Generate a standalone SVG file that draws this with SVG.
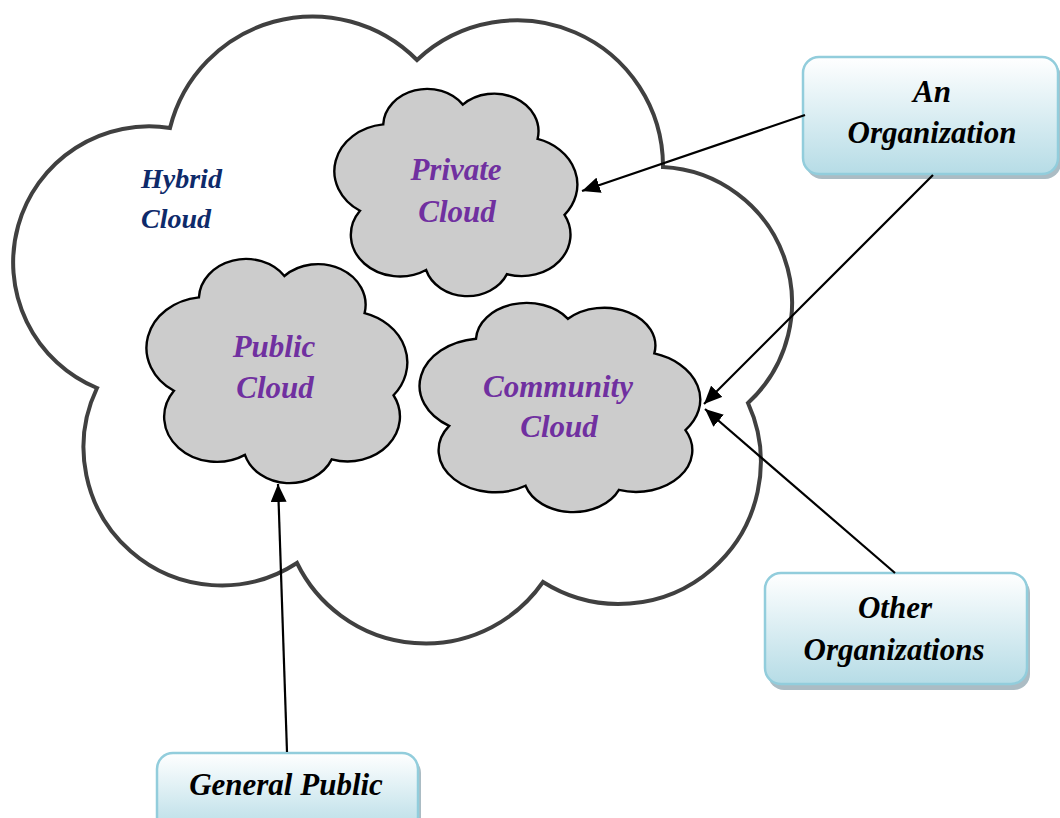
<svg xmlns="http://www.w3.org/2000/svg" width="1060" height="818" viewBox="0 0 1060 818">
  <style>
    .outer { fill: #ffffff; stroke: #404040; stroke-width: 4; stroke-linejoin: miter; }
    .cloud { fill: #cccccc; stroke: #000000; stroke-width: 2.4; }
    .lbl { font-family: "Liberation Serif", "Times New Roman", serif; font-weight: bold; font-style: italic; }
    .purple { fill: #7030a0; font-size: 31px; text-anchor: middle; }
    .navy { fill: #0e2a6a; font-size: 28px; }
    .boxtxt { fill: #000000; font-size: 31px; text-anchor: middle; }
    .box { fill: url(#boxFill); stroke: #92cddc; stroke-width: 2.5; }
    .shadow { fill: #8fa6b0; opacity: 0.75; }
    .conn { stroke: #000000; stroke-width: 2.2; fill: none; marker-end: url(#arrow); }
  </style>
  <defs>
    <linearGradient id="boxFill" x1="0" y1="0" x2="0" y2="1">
      <stop offset="0" stop-color="#ffffff"/>
      <stop offset="1" stop-color="#b6dce6"/>
    </linearGradient>
    <marker id="arrow" markerUnits="userSpaceOnUse" markerWidth="20" markerHeight="16" refX="18" refY="8" orient="auto">
      <path d="M0,0 L18,8 L0,16 Z" fill="#000000"/>
    </marker>
  </defs>

  <rect width="1060" height="818" fill="#ffffff"/>

  <!-- hybrid cloud outline -->
  <g id="hybrid-cloud">
    <path class="outer" d="M170,128 A147,147 0 0 1 417,60 A146,146 0 0 1 663,167 A136,136 0 0 1 748,403 A142,142 0 0 1 543,582 A143,143 0 0 1 297,563 A138,138 0 0 1 97,388 A136,136 0 0 1 170,128 Z"/>
    <text class="lbl navy" x="141" y="188">Hybrid</text>
    <text class="lbl navy" x="141" y="228">Cloud</text>
  </g>

  <!-- inner clouds: one outline in a 100x100 box, scaled into place -->
  <g id="private-cloud">
    <path class="cloud" vector-effect="non-scaling-stroke" transform="translate(333,88) scale(2.45,2.08)" d="M11,59 A22.6,22.6 0 0 1 20.5,17.5 A17.9,17.9 0 0 1 53,8 A18.1,18.1 0 0 1 83.5,24.5 A22.9,22.9 0 0 1 94.5,61 A19.9,19.9 0 0 1 71,89.5 A17.6,17.6 0 0 1 38,87.5 A20,20 0 0 1 11,59 Z"/>
    <text class="lbl purple" x="456" y="180">Private</text>
    <text class="lbl purple" x="457" y="222">Cloud</text>
  </g>

  <g id="public-cloud">
    <path class="cloud" vector-effect="non-scaling-stroke" transform="translate(145,258) scale(2.63,2.25)" d="M11,59 A22.6,22.6 0 0 1 20.5,17.5 A17.9,17.9 0 0 1 53,8 A18.1,18.1 0 0 1 83.5,24.5 A22.9,22.9 0 0 1 94.5,61 A19.9,19.9 0 0 1 71,89.5 A17.6,17.6 0 0 1 38,87.5 A20,20 0 0 1 11,59 Z"/>
    <text class="lbl purple" x="274" y="357">Public</text>
    <text class="lbl purple" x="275" y="398">Cloud</text>
  </g>

  <g id="community-cloud">
    <path class="cloud" vector-effect="non-scaling-stroke" transform="translate(418,302) scale(2.83,2.10)" d="M11,59 A22.6,22.6 0 0 1 20.5,17.5 A17.9,17.9 0 0 1 53,8 A18.1,18.1 0 0 1 83.5,24.5 A22.9,22.9 0 0 1 94.5,61 A19.9,19.9 0 0 1 71,89.5 A17.6,17.6 0 0 1 38,87.5 A20,20 0 0 1 11,59 Z"/>
    <text class="lbl purple" x="558" y="397">Community</text>
    <text class="lbl purple" x="559" y="437">Cloud</text>
  </g>

  <!-- user boxes -->
  <g id="an-organization">
    <rect class="shadow" x="806" y="61" width="255" height="118" rx="16"/>
    <rect class="box" x="803" y="57" width="255" height="117" rx="16"/>
    <text class="lbl boxtxt" x="932" y="102">An</text>
    <text class="lbl boxtxt" x="932" y="143">Organization</text>
  </g>

  <g id="other-organizations">
    <rect class="shadow" x="768" y="577" width="262" height="113" rx="16"/>
    <rect class="box" x="765" y="573" width="262" height="111" rx="16"/>
    <text class="lbl boxtxt" x="895" y="618">Other</text>
    <text class="lbl boxtxt" x="894" y="660">Organizations</text>
  </g>

  <g id="general-public">
    <rect class="shadow" x="160" y="757" width="261" height="80" rx="16"/>
    <rect class="box" x="157" y="753" width="261" height="80" rx="16"/>
    <text class="lbl boxtxt" x="286" y="795">General Public</text>
  </g>

  <!-- connectors -->
  <g id="connectors">
    <line class="conn" x1="805" y1="115" x2="582" y2="191"/>
    <line class="conn" x1="933" y1="175" x2="704" y2="404"/>
    <line class="conn" x1="895" y1="573" x2="705" y2="409"/>
    <line class="conn" x1="287" y1="752" x2="278" y2="484"/>
  </g>
</svg>
